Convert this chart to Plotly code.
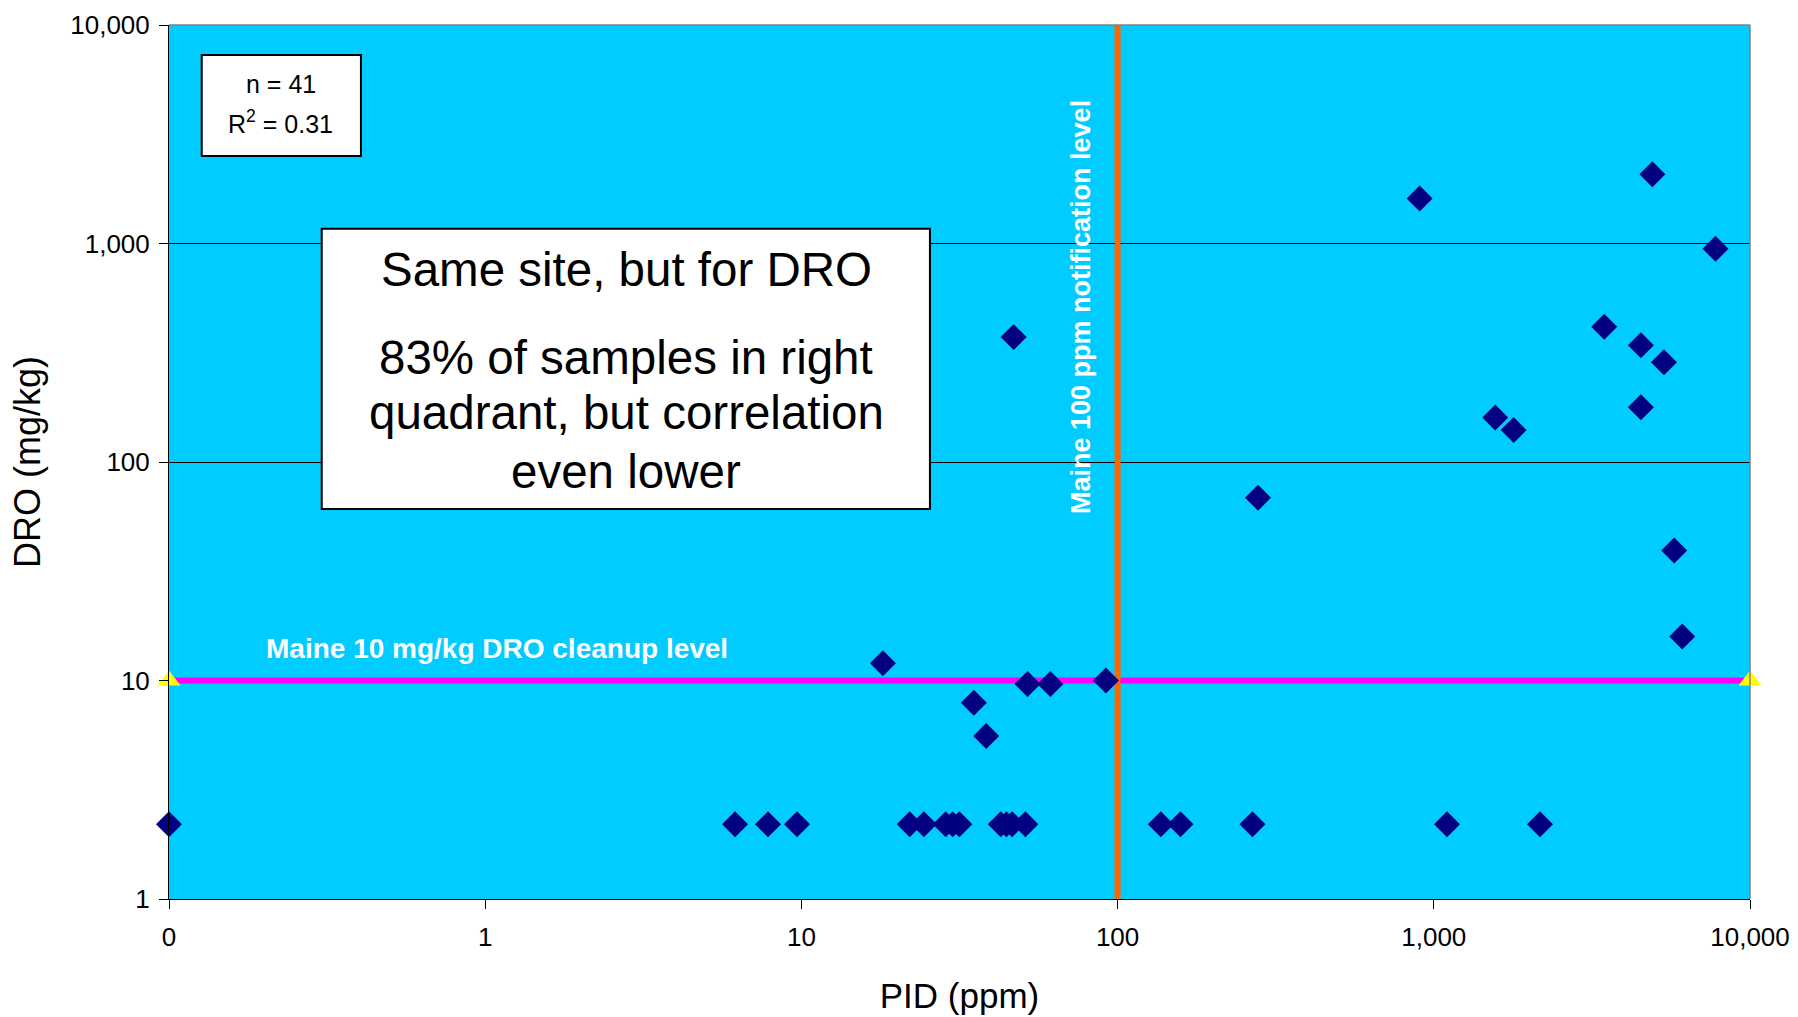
import plotly.graph_objects as go

# ---- data ----
pid_ppm = [0.1, 6.17, 7.84, 9.69, 22.0, 24.4, 28.6, 30.1, 31.6, 42.7, 44.5, 46.4, 51.1,
           137, 158, 267, 1101, 2167,
           18.1, 35.1, 38.4, 51.9, 61.3, 91.8,
           46.9, 278, 902, 4912, 7780, 3459, 4518, 5343, 1564, 1788, 4518, 5757, 6105]
dro_mgkg = [2.2, 2.2, 2.2, 2.2, 2.2, 2.2, 2.2, 2.2, 2.2, 2.2, 2.2, 2.2, 2.2,
            2.2, 2.2, 2.2, 2.2, 2.2,
            12.0, 7.9, 5.57, 9.64, 9.64, 10.0,
            373, 68.6, 1608, 2074, 946, 416, 342, 286, 160, 140, 178, 39.4, 15.9]

cleanup_x = [0.1, 10000]
cleanup_y = [10, 10]
notify_x = [100, 100]
notify_y = [1, 10000]

x_tickvals = [0.1, 1, 10, 100, 1000, 10000]
x_ticktext = ["0", "1", "10", "100", "1,000", "10,000"]
y_tickvals = [1, 10, 100, 1000, 10000]
y_ticktext = ["1", "10", "100", "1,000", "10,000"]

FONT = "Liberation Sans, Arial, sans-serif"

fig = go.Figure()
fig.add_trace(go.Scatter(x=cleanup_x, y=cleanup_y, mode="lines",
                         line=dict(color="#FF00FF", width=6),
                         cliponaxis=False, hoverinfo="skip", showlegend=False))
fig.add_trace(go.Scatter(x=notify_x, y=notify_y, mode="lines",
                         line=dict(color="#FF6600", width=6),
                         cliponaxis=False, hoverinfo="skip", showlegend=False))
fig.add_trace(go.Scatter(x=pid_ppm, y=dro_mgkg, mode="markers",
                         marker=dict(symbol="diamond", color="#000080", size=20,
                                     line=dict(width=0)),
                         cliponaxis=False, showlegend=False))
fig.add_trace(go.Scatter(x=cleanup_x, y=cleanup_y, mode="markers",
                         marker=dict(symbol="triangle-up", color="#FFFF00", size=20,
                                     line=dict(width=0)),
                         cliponaxis=False, hoverinfo="skip", showlegend=False))

fig.update_layout(
    width=1798, height=1017,
    margin=dict(l=169, r=48, t=25, b=118),
    paper_bgcolor="white", plot_bgcolor="#00CCFF",
    font=dict(family=FONT, color="black"),
    xaxis=dict(type="log", range=[-1, 4], tickvals=x_tickvals, ticktext=x_ticktext,
               automargin=False,
               ticks="outside", ticklen=9, tickcolor="black", tickwidth=1,
               showline=True, linecolor="black", linewidth=1,
               showgrid=False, zeroline=False, ticklabelstandoff=6,
               tickfont=dict(size=26, family=FONT, color="black"),
               title=dict(text="PID (ppm)", font=dict(size=35, family=FONT, color="black"),
                          standoff=32)),
    yaxis=dict(type="log", range=[0, 4], tickvals=y_tickvals, ticktext=y_ticktext,
               automargin=False,
               ticks="outside", ticklen=9, tickcolor="black", tickwidth=1,
               showline=True, linecolor="black", linewidth=1,
               showgrid=True, gridcolor="black", gridwidth=1, zeroline=False,
               ticklabelstandoff=4,
               tickfont=dict(size=26, family=FONT, color="black"),
               title=dict(text="DRO (mg/kg)", font=dict(size=36, family=FONT, color="black"),
                          standoff=18)),
)

# plot area border (top/right gray)
fig.add_shape(type="line", xref="paper", yref="paper", x0=0, x1=1, y0=1, y1=1,
              line=dict(color="#808080", width=1.5), layer="above")
fig.add_shape(type="line", xref="paper", yref="paper", x0=1, x1=1, y0=0, y1=1,
              line=dict(color="#808080", width=1.5), layer="above")

# small stats box
fig.add_shape(type="rect", xref="paper", yref="paper", x0=0.0207, x1=0.1214, y0=0.850, y1=0.9657,
              fillcolor="white", line=dict(color="black", width=2), layer="above")
fig.add_annotation(xref="paper", yref="paper", x=0.0708, y=0.9320, text="n = 41",
                   showarrow=False, font=dict(size=25, family=FONT, color="black"),
                   xanchor="center", yanchor="middle")
fig.add_annotation(xref="paper", yref="paper", x=0.0708, y=0.8895, text="R<sup>2</sup> = 0.31",
                   showarrow=False, font=dict(size=25, family=FONT, color="black"),
                   xanchor="center", yanchor="middle")

# big comment box
fig.add_shape(type="rect", xref="paper", yref="paper", x0=0.0966, x1=0.4813, y0=0.4462, y1=0.7669,
              fillcolor="white", line=dict(color="black", width=2), layer="above")
big_lines = [("Same site, but for DRO", 0.7197),
             ("83% of samples in right", 0.6201),
             ("quadrant, but correlation", 0.5561),
             ("even lower", 0.4886)]
for txt, yy in big_lines:
    fig.add_annotation(xref="paper", yref="paper", x=0.2891, y=yy, text=txt,
                       showarrow=False, font=dict(size=47.5, family=FONT, color="black"),
                       xanchor="center", yanchor="middle")

# reference-line labels
fig.add_annotation(xref="paper", yref="paper", x=0.0600, y=0.2866,
                   text="<b>Maine 10 mg/kg DRO cleanup level</b>", showarrow=False,
                   font=dict(size=28, family=FONT, color="white"),
                   xanchor="left", yanchor="middle")
fig.add_annotation(xref="paper", yref="paper", x=0.5768, y=0.6773,
                   text="<b>Maine 100 ppm notification level</b>", showarrow=False,
                   textangle=-90, font=dict(size=27, family=FONT, color="white"),
                   xanchor="center", yanchor="middle")

fig.write_html("out.html")
